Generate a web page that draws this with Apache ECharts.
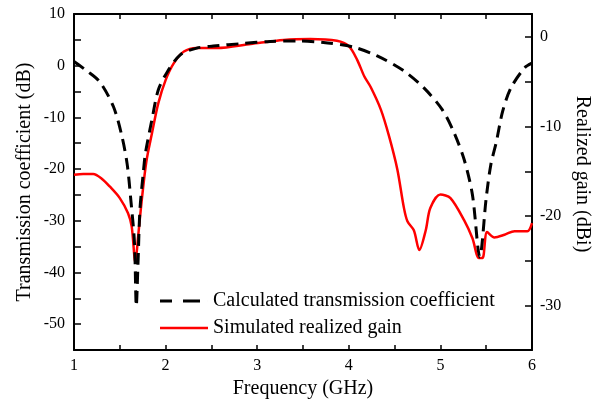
<!DOCTYPE html>
<html><head><meta charset="utf-8">
<script src="https://cdn.jsdelivr.net/npm/echarts@6/dist/echarts.min.js"></script>
<style>html,body{margin:0;padding:0;background:#fff}#c{width:603px;height:405px}</style>
</head><body><div id="c"></div>
<script>
// Calculated transmission coefficient (dB, left axis)
var calcFreq = [1.00,1.14,1.28,1.43,1.52,1.58,1.62,1.66,1.68,1.70,1.72,1.76,1.78,1.85,1.92,2.01,2.16,2.34,2.52,2.85,3.14,3.45,3.77,4.05,4.31,4.60,4.82,5.02,5.15,5.26,5.35,5.43,5.50,5.55,5.61,5.68,5.77,5.92,6.00];
var calcVal  = [0.8,-1.0,-3.1,-7.9,-13.4,-19.0,-25.9,-34.2,-46.5,-37.5,-27.8,-20.1,-16.9,-10.5,-4.7,-1.45,2.1,3.4,3.8,4.3,4.7,4.8,4.4,3.6,1.9,-1.0,-4.3,-8.5,-13.0,-18.2,-25.0,-37.0,-25.6,-19.2,-14.8,-8.8,-4.3,-0.4,0.5];
// Simulated realized gain (dBi, right axis)
var gainFreq = [1.00,1.10,1.21,1.30,1.39,1.50,1.59,1.63,1.67,1.70,1.74,1.79,1.85,1.92,2.00,2.09,2.20,2.34,2.56,2.93,3.29,3.58,3.87,4.00,4.09,4.17,4.24,4.35,4.44,4.53,4.60,4.64,4.71,4.77,4.84,4.89,5.00,5.11,5.26,5.35,5.42,5.46,5.51,5.59,5.70,5.81,5.95,6.00];
var gainVal  = [-15.4,-15.3,-15.3,-15.8,-16.7,-18.0,-19.7,-21.2,-25.2,-22.3,-18.2,-13.9,-10.8,-7.4,-4.8,-2.9,-1.6,-1.2,-1.2,-0.75,-0.3,-0.2,-0.4,-1.0,-2.5,-4.4,-5.6,-8.1,-11.1,-14.8,-19.0,-20.6,-21.6,-23.8,-21.6,-19.1,-17.6,-18.0,-20.5,-22.5,-24.7,-24.7,-21.8,-22.4,-22.1,-21.7,-21.7,-20.8];
var seriesNames = ['Calculated transmission coefficient','Simulated realized gain'];
var xTitle = 'Frequency (GHz)';
var yLeftTitle = 'Transmission coefficient (dB)';
var yRightTitle = 'Realized gain (dBi)';

function zip(a,b){return a.map(function(v,i){return [v,b[i]];});}
var FONT = 'Liberation Serif';
var axisLineStyle = {color:'#000', width:2};
var tickStyle = {color:'#000', width:1.5};
var dashIcon = 'path://M0,0h12v3h-12z M23,0h17v3h-17z M47.99,0h0.01v3h-0.01z';
var solidIcon = 'path://M0,0.2h48v2.6h-48z';

var chart = echarts.init(document.getElementById('c'));
chart.setOption({
  animation:false,
  backgroundColor:'#fff',
  grid:{left:74, right:71, top:14, bottom:55},
  legend:{
    orient:'vertical', left:155, top:286, itemWidth:48, itemHeight:3, itemGap:7,
    textStyle:{fontFamily:FONT, fontSize:20, color:'#000'},
    data:[{name:seriesNames[0], icon:dashIcon},{name:seriesNames[1], icon:solidIcon}]
  },
  xAxis:[{
    type:'value', min:1, max:6, interval:0.5, position:'bottom',
    name:xTitle, nameLocation:'middle', nameGap:25,
    nameTextStyle:{fontFamily:FONT, fontSize:20, color:'#000'},
    axisLine:{show:true, onZero:false, lineStyle:axisLineStyle},
    axisTick:{show:true, inside:true, length:5, lineStyle:tickStyle},
    axisLabel:{fontFamily:FONT, fontSize:16, color:'#000', margin:8,
      formatter:function(v){return Math.abs(v-Math.round(v))<1e-6? String(Math.round(v)) : '';}},
    splitLine:{show:false}
  },{
    type:'value', min:1, max:6, interval:0.5, position:'top',
    axisLine:{show:true, onZero:false, lineStyle:axisLineStyle},
    axisTick:{show:true, inside:true, length:5, lineStyle:tickStyle},
    axisLabel:{show:false}, splitLine:{show:false}
  }],
  yAxis:[{
    type:'value', min:-55, max:10, interval:5, position:'left',
    name:yLeftTitle, nameLocation:'middle', nameGap:39, nameMoveOverlap:false,
    nameTextStyle:{fontFamily:FONT, fontSize:20, color:'#000'},
    axisLine:{show:true, onZero:false, lineStyle:axisLineStyle},
    axisTick:{show:true, inside:true, length:7, lineStyle:tickStyle},
    axisLabel:{fontFamily:FONT, fontSize:16, color:'#000', margin:9,
      formatter:function(v){return (Math.round(v)%10===0 && v>-55)? String(v) : '';}},
    splitLine:{show:false}
  },{
    type:'value', min:-35, max:2.6, interval:5, position:'right',
    name:yRightTitle, nameLocation:'middle', nameGap:29, nameRotate:-90,
    nameTextStyle:{fontFamily:FONT, fontSize:20, color:'#000', padding:[0,16,0,0]},
    axisLine:{show:true, onZero:false, lineStyle:axisLineStyle},
    axisTick:{show:true, inside:true, length:7, lineStyle:tickStyle},
    axisLabel:{fontFamily:FONT, fontSize:16, color:'#000', margin:8,
      formatter:function(v){return (Math.abs(v-Math.round(v))<1e-6 && Math.round(v)%10===0 && v>-35)? String(Math.round(v)) : '';}},
    splitLine:{show:false}
  }],
  series:[{
    name:seriesNames[0], type:'line', xAxisIndex:0, yAxisIndex:0,
    data:zip(calcFreq, calcVal), symbol:'none', smooth:0.3,
    lineStyle:{color:'#000', width:3, type:[12,7]}, itemStyle:{color:'#000'}, z:3
  },{
    name:seriesNames[1], type:'line', xAxisIndex:0, yAxisIndex:1,
    data:zip(gainFreq, gainVal), symbol:'none', smooth:0.3,
    lineStyle:{color:'#ff0000', width:2.5}, itemStyle:{color:'#ff0000'}, z:2
  }]
});
</script></body></html>
